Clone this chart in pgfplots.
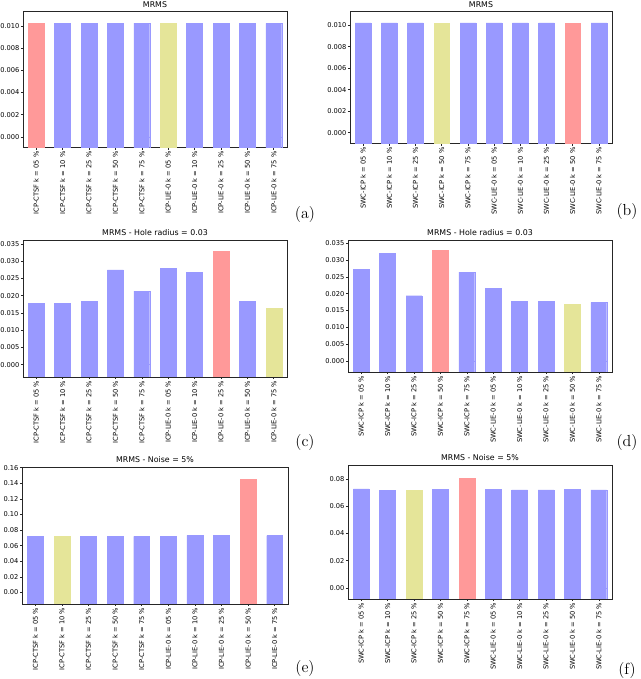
\documentclass[border=0pt]{standalone}
\usepackage{fontspec}
\usepackage{pgfplots}
\pgfplotsset{compat=1.18}
\newfontfamily\djv{DejaVu Sans}
\definecolor{cb}{RGB}{153,153,255}
\definecolor{cr}{RGB}{255,153,153}
\definecolor{cy}{RGB}{229,229,153}
\newcommand\tf{\djv\fontsize{5.9}{7}\selectfont}
\newcommand\kf{\djv\fontsize{5.0}{6}\selectfont}
\pgfplotsset{
 mrms/.style={
  scale only axis, anchor=north west,
  xmin=-0.5, xmax=9.5, xtick={0,...,9},
  axis line style={black!85, line width=0.6pt},
  tick pos=left, tick align=outside, major tick length=1.6pt,
  tick style={black!85, line width=0.45pt},
  font=\kf,
  ticklabel style={font=\kf},
  x tick label style={rotate=90, anchor=east, inner sep=1pt},
  y tick label style={inner sep=0.9pt},
  scaled y ticks=false,
  title style={font=\tf, inner sep=1pt, yshift=-4pt},
  ybar, bar width=0.6, bar shift=0pt,
 },
 prec3/.style={yticklabel style={/pgf/number format/.cd,fixed,fixed zerofill,precision=3,assume math mode=true}},
 prec2/.style={yticklabel style={/pgf/number format/.cd,fixed,fixed zerofill,precision=2,assume math mode=true}},
 icp/.style={xticklabels={{ICP-CTSF k = 05 \%},{ICP-CTSF k = 10 \%},{ICP-CTSF k = 25 \%},{ICP-CTSF k = 50 \%},{ICP-CTSF k = 75 \%},{ICP-LIE-0 k = 05 \%},{ICP-LIE-0 k = 10 \%},{ICP-LIE-0 k = 25 \%},{ICP-LIE-0 k = 50 \%},{ICP-LIE-0 k = 75 \%}}},
 swc/.style={xticklabels={{SWC-ICP k = 05 \%},{SWC-ICP k = 10 \%},{SWC-ICP k = 25 \%},{SWC-ICP k = 50 \%},{SWC-ICP k = 75 \%},{SWC-LIE-0 k = 05 \%},{SWC-LIE-0 k = 10 \%},{SWC-LIE-0 k = 25 \%},{SWC-LIE-0 k = 50 \%},{SWC-LIE-0 k = 75 \%}}},
 ext/.style={fill=#1, draw=#1, line width=0.3pt},
 bar/.style={fill=#1, draw=#1, line width=0.3pt},
}
\begin{document}
\begin{tikzpicture}
\useasboundingbox (0,0) rectangle (480pt,-509.25pt);
% (a)
\begin{axis}[mrms, icp, prec3, at={(17.25pt,-9pt)}, width=198pt, height=102pt,
  ymin=-0.00099, ymax=0.01126, ytick={0,0.002,0.004,0.006,0.008,0.010}, title={MRMS}]
\addplot[ext=cb] coordinates {(1,-1)(2,-1)(3,-1)(4,-1)(6,-1)(7,-1)(8,-1)(9,-1)};
\addplot[ext=cr] coordinates {(0,-1)};
\addplot[ext=cy] coordinates {(5,-1)};
\addplot[bar=cb] coordinates {(1,0.01024)(2,0.01024)(3,0.01024)(4,0.01024)(6,0.01023)(7,0.01023)(8,0.01023)(9,0.01023)};
\addplot[bar=cr] coordinates {(0,0.01024)};
\addplot[bar=cy] coordinates {(5,0.01023)};
\end{axis}
% (b)
\begin{axis}[mrms, swc, prec3, at={(262.5pt,-9pt)}, width=196.5pt, height=99pt,
  ymin=-0.00105, ymax=0.01124, ytick={0,0.002,0.004,0.006,0.008,0.010}, title={MRMS}]
\addplot[ext=cb] coordinates {(0,-1)(1,-1)(2,-1)(4,-1)(5,-1)(6,-1)(7,-1)(9,-1)};
\addplot[ext=cr] coordinates {(8,-1)};
\addplot[ext=cy] coordinates {(3,-1)};
\addplot[bar=cb] coordinates {(0,0.01022)(1,0.01022)(2,0.01022)(4,0.01022)(5,0.01022)(6,0.01022)(7,0.01022)(9,0.01022)};
\addplot[bar=cr] coordinates {(8,0.01022)};
\addplot[bar=cy] coordinates {(3,0.01022)};
\end{axis}
% (c)
\begin{axis}[mrms, icp, prec3, at={(17.25pt,-180pt)}, width=198pt, height=102.75pt,
  ymin=-0.00359, ymax=0.03616, ytick={0,0.005,0.010,0.015,0.020,0.025,0.030,0.035}, title={MRMS - Hole radius = 0.03}]
\addplot[ext=cb] coordinates {(0,-1)(1,-1)(2,-1)(3,-1)(4,-1)(5,-1)(6,-1)(8,-1)};
\addplot[ext=cr] coordinates {(7,-1)};
\addplot[ext=cy] coordinates {(9,-1)};
\addplot[bar=cb] coordinates {(0,0.0178)(1,0.0178)(2,0.0183)(3,0.0275)(4,0.0213)(5,0.0279)(6,0.0268)(8,0.0183)};
\addplot[bar=cr] coordinates {(7,0.0330)};
\addplot[bar=cy] coordinates {(9,0.0163)};
\end{axis}
% (d)
\begin{axis}[mrms, swc, prec3, at={(261pt,-180pt)}, width=198pt, height=99pt,
  ymin=-0.00328, ymax=0.0360, ytick={0,0.005,0.010,0.015,0.020,0.025,0.030,0.035}, title={MRMS - Hole radius = 0.03}]
\addplot[ext=cb] coordinates {(0,-1)(1,-1)(2,-1)(4,-1)(5,-1)(6,-1)(7,-1)(9,-1)};
\addplot[ext=cr] coordinates {(3,-1)};
\addplot[ext=cy] coordinates {(8,-1)};
\addplot[bar=cb] coordinates {(0,0.0272)(1,0.0321)(2,0.0194)(4,0.0264)(5,0.0216)(6,0.0178)(7,0.0178)(9,0.0174)};
\addplot[bar=cr] coordinates {(3,0.0329)};
\addplot[bar=cy] coordinates {(8,0.0170)};
\end{axis}
% (e)
\begin{axis}[mrms, icp, prec2, at={(16.5pt,-350.25pt)}, width=199.5pt, height=102.75pt,
  ymin=-0.0149, ymax=0.1609, ytick={0,0.02,0.04,0.06,0.08,0.10,0.12,0.14,0.16}, title={MRMS - Noise = 5\%}]
\addplot[ext=cb] coordinates {(0,-1)(2,-1)(3,-1)(4,-1)(5,-1)(6,-1)(7,-1)(9,-1)};
\addplot[ext=cr] coordinates {(8,-1)};
\addplot[ext=cy] coordinates {(1,-1)};
\addplot[bar=cb] coordinates {(0,0.0719)(2,0.0719)(3,0.0719)(4,0.0719)(5,0.0723)(6,0.0732)(7,0.0736)(9,0.0728)};
\addplot[bar=cr] coordinates {(8,0.1451)};
\addplot[bar=cy] coordinates {(1,0.0719)};
\end{axis}
% (f)
\begin{axis}[mrms, swc, prec2, at={(261pt,-348.75pt)}, width=198pt, height=100.5pt,
  ymin=-0.0080, ymax=0.0902, ytick={0,0.02,0.04,0.06,0.08}, title={MRMS - Noise = 5\%}]
\addplot[ext=cb] coordinates {(0,-1)(1,-1)(3,-1)(5,-1)(6,-1)(7,-1)(8,-1)(9,-1)};
\addplot[ext=cr] coordinates {(4,-1)};
\addplot[ext=cy] coordinates {(2,-1)};
\addplot[bar=cb] coordinates {(0,0.0727)(1,0.0717)(3,0.0722)(5,0.0722)(6,0.0720)(7,0.0720)(8,0.0722)(9,0.0720)};
\addplot[bar=cr] coordinates {(4,0.0805)};
\addplot[bar=cy] coordinates {(2,0.0717)};
\end{axis}
\node[font=\fontsize{12}{14}\selectfont] at (228.75pt,-161.25pt) {(a)};
\node[font=\fontsize{12}{14}\selectfont] at (470.25pt,-159pt) {(b)};
\node[font=\fontsize{12}{14}\selectfont] at (228.75pt,-332.25pt) {(c)};
\node[font=\fontsize{12}{14}\selectfont] at (470.25pt,-332.25pt) {(d)};
\node[font=\fontsize{12}{14}\selectfont] at (228.75pt,-501pt) {(e)};
\node[font=\fontsize{12}{14}\selectfont] at (470.25pt,-502.5pt) {(f)};
\end{tikzpicture}
\end{document}
